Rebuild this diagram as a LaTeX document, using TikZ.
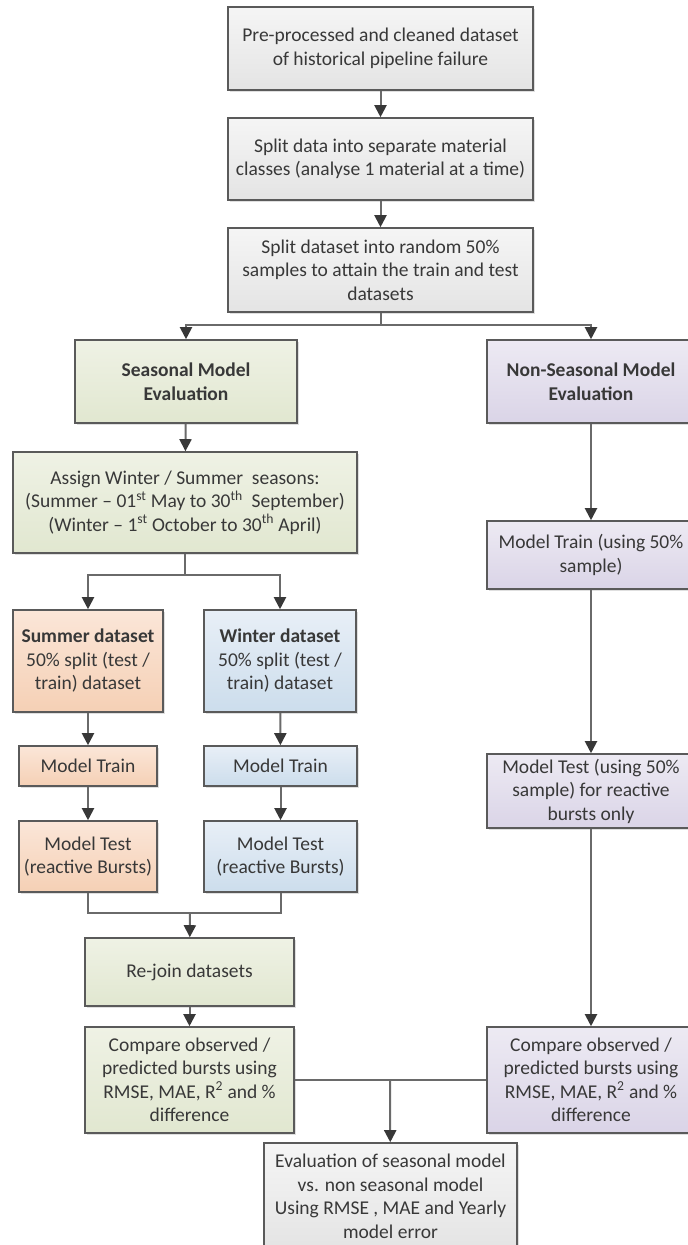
\documentclass[tikz,border=0pt]{standalone}
\usepackage{fontspec}
\setmainfont{Carlito}
\usetikzlibrary{arrows.meta,shadows}

\definecolor{boxline}{HTML}{5A5A5A}
\definecolor{wire}{HTML}{6A6A6A}
\definecolor{tipc}{HTML}{383838}
\definecolor{txt}{HTML}{383838}
\definecolor{grayT}{HTML}{F5F5F5}\definecolor{grayB}{HTML}{E4E4E4}
\definecolor{greenT}{HTML}{EFF2E5}\definecolor{greenB}{HTML}{E1E7D0}
\definecolor{peachT}{HTML}{FBE6D8}\definecolor{peachB}{HTML}{F5D0B5}
\definecolor{blueT}{HTML}{E8EFF7}\definecolor{blueB}{HTML}{CCDDEC}
\definecolor{purpT}{HTML}{EDEAF3}\definecolor{purpB}{HTML}{DAD4E7}

\tikzset{
  box/.style={draw=boxline, line width=1.6pt, align=center, inner sep=0pt,
    text=txt, font=\fontsize{19.5}{23.5}\selectfont,
    drop shadow={shadow xshift=1.5pt, shadow yshift=-1.5pt, opacity=0.25}},
  graybox/.style={box, top color=grayT, bottom color=grayB},
  greenbox/.style={box, top color=greenT, bottom color=greenB},
  peachbox/.style={box, top color=peachT, bottom color=peachB},
  bluebox/.style={box, top color=blueT, bottom color=blueB},
  purpbox/.style={box, top color=purpT, bottom color=purpB},
  wirel/.style={draw=wire, line width=2pt},
  arr/.style={wirel, -{Triangle[length=12pt,width=12pt,color=tipc]}},
}

\begin{document}
\begin{tikzpicture}[x=1pt,y=-1pt]
\fill[white] (0,0) rectangle (688,1245);
\useasboundingbox (0,0) rectangle (688,1245);

% preparation steps
\node[graybox, minimum width=305pt, minimum height=83pt] (prep) at (380.5,48.5)
  {Pre-processed and cleaned dataset\\of historical pipeline failure};
\node[graybox, minimum width=305pt, minimum height=82pt] (split) at (380.5,159)
  {Split data into separate material\\classes (analyse 1 material at a time)};
\node[graybox, minimum width=305pt, minimum height=84pt] (sample) at (380.5,270)
  {Split dataset into random 50\%\\samples to attain the train and test\\datasets};

% the two evaluation branches
\node[greenbox, minimum width=222pt, minimum height=83pt] (seas) at (186,381.5)
  {\textbf{Seasonal Model}\\\textbf{Evaluation}};
\node[purpbox, minimum width=208pt, minimum height=83pt] (nonseas) at (591,381.5)
  {\textbf{Non-Seasonal Model}\\\textbf{Evaluation}};

% seasonal branch
\node[greenbox, minimum width=344pt, minimum height=101pt] (assign) at (185,502.5)
  {Assign Winter / Summer\ \ seasons:\\
   (Summer -- 01\textsuperscript{st} May to 30\textsuperscript{th}\ \ September)\\
   (Winter -- 1\textsuperscript{st} October to 30\textsuperscript{th} April)};
\node[peachbox, minimum width=150pt, minimum height=102pt] (sumset) at (88,661)
  {\textbf{Summer dataset}\\50\% split (test /\\train) dataset};
\node[bluebox, minimum width=152pt, minimum height=102pt] (winset) at (280,661)
  {\textbf{Winter dataset}\\50\% split (test /\\train) dataset};
\node[peachbox, minimum width=138pt, minimum height=40pt] (sumtrain) at (88,766)
  {Model Train};
\node[bluebox, minimum width=153pt, minimum height=40pt] (wintrain) at (280.5,766)
  {Model Train};
\node[peachbox, minimum width=138pt, minimum height=71pt] (sumtest) at (88,856.5)
  {Model Test\\(reactive Bursts)};
\node[bluebox, minimum width=153pt, minimum height=71pt] (wintest) at (280.5,856.5)
  {Model Test\\(reactive Bursts)};
\node[greenbox, minimum width=209pt, minimum height=68pt] (rejoin) at (189.5,972)
  {Re-join datasets};
\node[greenbox, minimum width=209pt, minimum height=106pt] (cmpl) at (189.5,1080)
  {Compare observed /\\predicted bursts using\\RMSE, MAE, R\textsuperscript{2} and \%\\difference};

% non-seasonal branch
\node[purpbox, minimum width=208pt, minimum height=68pt] (ntrain) at (591,555)
  {Model Train (using 50\%\\sample)};
\node[purpbox, minimum width=208pt, minimum height=74pt] (ntest) at (591,791)
  {Model Test (using 50\%\\sample) for reactive\\bursts only};
\node[purpbox, minimum width=208pt, minimum height=106pt] (cmpr) at (591,1080)
  {Compare observed /\\predicted bursts using\\RMSE, MAE, R\textsuperscript{2} and \%\\difference};

% final comparison
\node[graybox, minimum width=253pt, minimum height=107pt] (final) at (390.5,1196.5)
  {Evaluation of seasonal model\\vs. non seasonal model\\Using RMSE , MAE and Yearly\\model error};

% junction points
\coordinate (fork1) at (380.5,325);
\coordinate (fork2) at (185,575);
\coordinate (join1) at (190,913);
\coordinate (join2) at (390,1080);

% connectors
\draw[arr] (prep) -- (split);
\draw[arr] (split) -- (sample);
\draw[wirel] (sample) -- (fork1);
\draw[arr] (fork1) -| (seas);
\draw[arr] (fork1) -| (nonseas);
\draw[arr] (seas) -- (assign);
\draw[wirel] (assign) -- (fork2);
\draw[arr] (fork2) -| (sumset);
\draw[arr] (fork2) -| (winset);
\draw[arr] (sumset) -- (sumtrain);
\draw[arr] (winset) -- (wintrain);
\draw[arr] (sumtrain) -- (sumtest);
\draw[arr] (wintrain) -- (wintest);
\draw[wirel] (sumtest) |- (join1);
\draw[wirel] (wintest) |- (join1);
\draw[arr] (join1) -- (rejoin);
\draw[arr] (rejoin) -- (cmpl);
\draw[arr] (nonseas) -- (ntrain);
\draw[arr] (ntrain) -- (ntest);
\draw[arr] (ntest) -- (cmpr);
\draw[wirel] (cmpl) -- (cmpr);
\draw[arr] (join2) -- (final);
\end{tikzpicture}
\end{document}
